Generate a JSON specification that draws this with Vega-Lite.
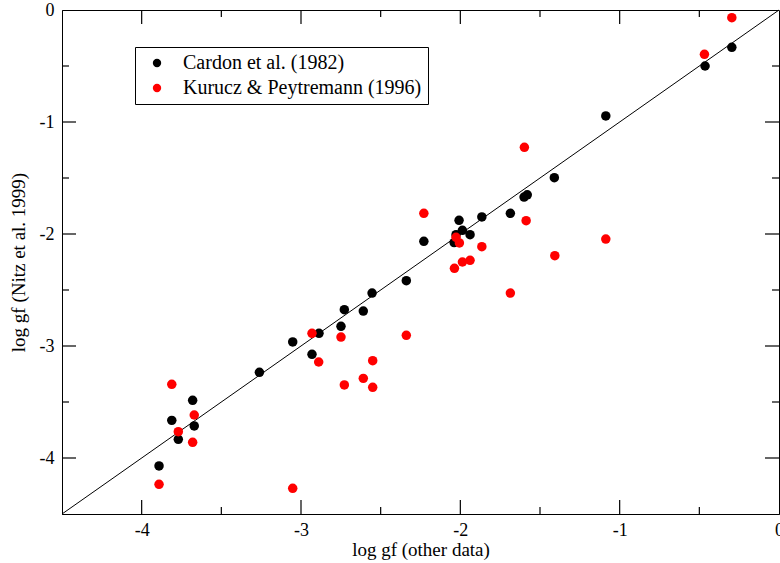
{
  "$schema": "https://vega.github.io/schema/vega-lite/v6.json",
  "width": 717,
  "height": 504,
  "autosize": {"type": "none"},
  "padding": {"left": 62, "top": 10, "right": 1, "bottom": 49},
  "background": "white",
  "datasets": {
    "diag": [{"x": -4.5, "y": -4.5}, {"x": 0, "y": 0}],
    "ticks": [
      {"v": -4, "kind": "major"}, {"v": -3, "kind": "major"}, {"v": -2, "kind": "major"}, {"v": -1, "kind": "major"},
      {"v": -3.5, "kind": "minor"}, {"v": -2.5, "kind": "minor"}, {"v": -1.5, "kind": "minor"}, {"v": -0.5, "kind": "minor"}
    ],
    "points": [
      {"x": -3.261, "y": -3.235, "source": "Cardon et al. (1982)"},
      {"x": -3.052, "y": -2.964, "source": "Cardon et al. (1982)"},
      {"x": -2.887, "y": -2.887, "source": "Cardon et al. (1982)"},
      {"x": -2.931, "y": -3.074, "source": "Cardon et al. (1982)"},
      {"x": -2.728, "y": -2.676, "source": "Cardon et al. (1982)"},
      {"x": -2.609, "y": -2.688, "source": "Cardon et al. (1982)"},
      {"x": -2.749, "y": -2.824, "source": "Cardon et al. (1982)"},
      {"x": -2.554, "y": -2.527, "source": "Cardon et al. (1982)"},
      {"x": -2.339, "y": -2.417, "source": "Cardon et al. (1982)"},
      {"x": -2.229, "y": -2.065, "source": "Cardon et al. (1982)"},
      {"x": -2.008, "y": -1.878, "source": "Cardon et al. (1982)"},
      {"x": -1.987, "y": -1.967, "source": "Cardon et al. (1982)"},
      {"x": -2.027, "y": -2.006, "source": "Cardon et al. (1982)"},
      {"x": -1.939, "y": -2.006, "source": "Cardon et al. (1982)"},
      {"x": -2.039, "y": -2.077, "source": "Cardon et al. (1982)"},
      {"x": -1.865, "y": -1.848, "source": "Cardon et al. (1982)"},
      {"x": -1.686, "y": -1.815, "source": "Cardon et al. (1982)"},
      {"x": -1.6, "y": -1.67, "source": "Cardon et al. (1982)"},
      {"x": -1.58, "y": -1.65, "source": "Cardon et al. (1982)"},
      {"x": -1.41, "y": -1.497, "source": "Cardon et al. (1982)"},
      {"x": -1.087, "y": -0.946, "source": "Cardon et al. (1982)"},
      {"x": -0.464, "y": -0.5, "source": "Cardon et al. (1982)"},
      {"x": -0.296, "y": -0.333, "source": "Cardon et al. (1982)"},
      {"x": -3.68, "y": -3.485, "source": "Cardon et al. (1982)"},
      {"x": -3.811, "y": -3.664, "source": "Cardon et al. (1982)"},
      {"x": -3.67, "y": -3.714, "source": "Cardon et al. (1982)"},
      {"x": -3.77, "y": -3.833, "source": "Cardon et al. (1982)"},
      {"x": -3.891, "y": -4.071, "source": "Cardon et al. (1982)"},
      {"x": -2.889, "y": -3.143, "source": "Kurucz & Peytremann (1996)"},
      {"x": -3.811, "y": -3.342, "source": "Kurucz & Peytremann (1996)"},
      {"x": -3.67, "y": -3.616, "source": "Kurucz & Peytremann (1996)"},
      {"x": -3.77, "y": -3.765, "source": "Kurucz & Peytremann (1996)"},
      {"x": -3.68, "y": -3.86, "source": "Kurucz & Peytremann (1996)"},
      {"x": -3.891, "y": -4.235, "source": "Kurucz & Peytremann (1996)"},
      {"x": -3.052, "y": -4.271, "source": "Kurucz & Peytremann (1996)"},
      {"x": -2.931, "y": -2.887, "source": "Kurucz & Peytremann (1996)"},
      {"x": -2.749, "y": -2.92, "source": "Kurucz & Peytremann (1996)"},
      {"x": -2.339, "y": -2.905, "source": "Kurucz & Peytremann (1996)"},
      {"x": -2.55, "y": -3.131, "source": "Kurucz & Peytremann (1996)"},
      {"x": -2.728, "y": -3.348, "source": "Kurucz & Peytremann (1996)"},
      {"x": -2.609, "y": -3.289, "source": "Kurucz & Peytremann (1996)"},
      {"x": -2.55, "y": -3.369, "source": "Kurucz & Peytremann (1996)"},
      {"x": -2.229, "y": -1.815, "source": "Kurucz & Peytremann (1996)"},
      {"x": -2.027, "y": -2.03, "source": "Kurucz & Peytremann (1996)"},
      {"x": -2.006, "y": -2.08, "source": "Kurucz & Peytremann (1996)"},
      {"x": -1.865, "y": -2.113, "source": "Kurucz & Peytremann (1996)"},
      {"x": -2.037, "y": -2.306, "source": "Kurucz & Peytremann (1996)"},
      {"x": -1.987, "y": -2.25, "source": "Kurucz & Peytremann (1996)"},
      {"x": -1.939, "y": -2.235, "source": "Kurucz & Peytremann (1996)"},
      {"x": -1.587, "y": -1.881, "source": "Kurucz & Peytremann (1996)"},
      {"x": -1.407, "y": -2.194, "source": "Kurucz & Peytremann (1996)"},
      {"x": -1.686, "y": -2.527, "source": "Kurucz & Peytremann (1996)"},
      {"x": -1.598, "y": -1.226, "source": "Kurucz & Peytremann (1996)"},
      {"x": -1.087, "y": -2.045, "source": "Kurucz & Peytremann (1996)"},
      {"x": -0.296, "y": -0.069, "source": "Kurucz & Peytremann (1996)"},
      {"x": -0.468, "y": -0.396, "source": "Kurucz & Peytremann (1996)"}
    ]
  },
  "config": {
    "view": {"stroke": "black", "strokeWidth": 1},
    "font": "Liberation Serif",
    "axis": {
      "domainColor": "black",
      "labelColor": "black",
      "titleColor": "black",
      "labelFont": "Liberation Serif",
      "titleFont": "Liberation Serif",
      "labelFontSize": 18,
      "titleFontSize": 19,
      "titleFontWeight": "normal",
      "grid": false
    }
  },
  "layer": [
    {
      "data": {"name": "diag"},
      "mark": {"type": "line", "color": "black", "strokeWidth": 1},
      "encoding": {
        "x": {
          "field": "x", "type": "quantitative",
          "scale": {"domain": [-4.5, 0], "nice": false, "zero": false},
          "axis": {
            "orient": "bottom", "title": "log gf (other data)",
            "values": [-4, -3, -2, -1, 0],
            "labelExpr": "toString(datum.value)",
            "ticks": false, "labelPadding": 7, "titlePadding": 1, "labelFlush": false
          }
        },
        "y": {
          "field": "y", "type": "quantitative",
          "scale": {"domain": [-4.5, 0], "nice": false, "zero": false},
          "axis": {
            "orient": "left", "title": "log gf (Nitz et al. 1999)",
            "values": [-4, -3, -2, -1, 0],
            "labelExpr": "toString(datum.value)",
            "ticks": false, "labelPadding": 8, "titlePadding": 11, "labelFlush": false
          }
        }
      }
    },
    {
      "data": {"name": "points"},
      "mark": {"type": "circle", "size": 90, "opacity": 1},
      "encoding": {
        "x": {"field": "x", "type": "quantitative"},
        "y": {"field": "y", "type": "quantitative"},
        "color": {
          "field": "source", "type": "nominal",
          "scale": {"domain": ["Cardon et al. (1982)", "Kurucz & Peytremann (1996)"], "range": ["#000000", "#ff0000"]},
          "legend": {
            "title": null,
            "orient": "none",
            "legendX": 73,
            "legendY": 37,
            "strokeColor": "black",
            "fillColor": "white",
            "padding": 6,
            "symbolOffset": 6,
            "symbolType": "circle",
            "symbolSize": 70,
            "symbolStrokeWidth": 0,
            "labelFont": "Liberation Serif",
            "labelFontSize": 20,
            "labelColor": "black",
            "labelOffset": 16,
            "rowPadding": 5,
            "labelLimit": 400
          }
        }
      }
    },
    {
      "data": {"name": "ticks"},
      "transform": [{"filter": "datum.kind === 'major'"}],
      "mark": {"type": "rule", "stroke": "#000000", "strokeWidth": 1.2},
      "encoding": {
        "x": {"field": "v", "type": "quantitative"},
        "y": {"datum": -4.5},
        "y2": {"datum": -4.375}
      }
    },
    {
      "data": {"name": "ticks"},
      "transform": [{"filter": "datum.kind === 'minor'"}],
      "mark": {"type": "rule", "stroke": "#000000", "strokeWidth": 1.2},
      "encoding": {
        "x": {"field": "v", "type": "quantitative"},
        "y": {"datum": -4.5},
        "y2": {"datum": -4.4375}
      }
    },
    {
      "data": {"name": "ticks"},
      "transform": [{"filter": "datum.kind === 'major'"}],
      "mark": {"type": "rule", "stroke": "#000000", "strokeWidth": 1.2},
      "encoding": {
        "x": {"field": "v", "type": "quantitative"},
        "y": {"datum": 0},
        "y2": {"datum": -0.125}
      }
    },
    {
      "data": {"name": "ticks"},
      "transform": [{"filter": "datum.kind === 'minor'"}],
      "mark": {"type": "rule", "stroke": "#000000", "strokeWidth": 1.2},
      "encoding": {
        "x": {"field": "v", "type": "quantitative"},
        "y": {"datum": 0},
        "y2": {"datum": -0.0625}
      }
    },
    {
      "data": {"name": "ticks"},
      "transform": [{"filter": "datum.kind === 'major'"}],
      "mark": {"type": "rule", "stroke": "#000000", "strokeWidth": 1.2},
      "encoding": {
        "y": {"field": "v", "type": "quantitative"},
        "x": {"datum": -4.5},
        "x2": {"datum": -4.412}
      }
    },
    {
      "data": {"name": "ticks"},
      "transform": [{"filter": "datum.kind === 'minor'"}],
      "mark": {"type": "rule", "stroke": "#000000", "strokeWidth": 1.2},
      "encoding": {
        "y": {"field": "v", "type": "quantitative"},
        "x": {"datum": -4.5},
        "x2": {"datum": -4.456}
      }
    },
    {
      "data": {"name": "ticks"},
      "transform": [{"filter": "datum.kind === 'major'"}],
      "mark": {"type": "rule", "stroke": "#000000", "strokeWidth": 1.2},
      "encoding": {
        "y": {"field": "v", "type": "quantitative"},
        "x": {"datum": 0},
        "x2": {"datum": -0.088}
      }
    },
    {
      "data": {"name": "ticks"},
      "transform": [{"filter": "datum.kind === 'minor'"}],
      "mark": {"type": "rule", "stroke": "#000000", "strokeWidth": 1.2},
      "encoding": {
        "y": {"field": "v", "type": "quantitative"},
        "x": {"datum": 0},
        "x2": {"datum": -0.044}
      }
    }
  ]
}
